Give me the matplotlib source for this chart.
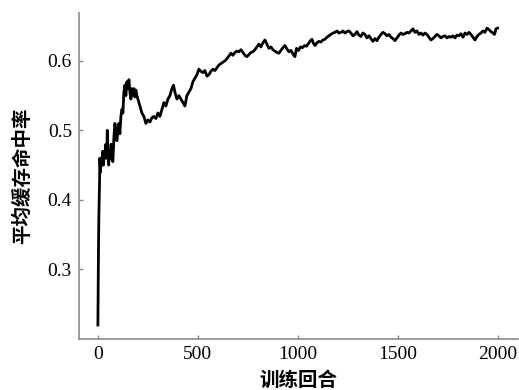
import matplotlib
matplotlib.use('Agg')
import matplotlib.pyplot as plt

# training episodes and average cache hit rate
episodes = [0, 3, 5, 8, 10, 13, 16, 20, 24, 28, 32, 36, 40, 44, 47, 50, 54, 58, 62, 66,
            70, 75, 80, 85, 90, 95, 100, 105, 110, 115, 120, 125, 130, 135, 140, 145,
            150, 155, 160, 165, 170, 175, 180, 185, 190, 195, 200, 210, 220, 230, 240,
            250, 260, 270, 280, 290, 300, 310, 320, 330, 340, 350, 360, 370, 378, 385,
            395, 405, 415, 425, 435, 445, 455, 465, 475, 485, 495, 505, 515, 525, 535,
            545, 555, 565, 575, 585, 595, 605, 615, 625, 635, 645, 655, 665, 675, 685,
            695, 705, 715, 725, 735, 745, 755, 765, 775, 785, 795, 805, 815, 825, 835,
            845, 855, 865, 875, 885, 895, 905, 915, 925, 935, 945, 955, 965, 975, 985,
            993, 1003, 1013, 1023, 1033, 1043, 1053, 1063, 1070, 1078, 1086, 1095, 1105,
            1115, 1125, 1135, 1145, 1155, 1165, 1175, 1185, 1195, 1205, 1215, 1225, 1235,
            1245, 1255, 1265, 1275, 1285, 1295, 1305, 1315, 1325, 1335, 1345, 1355, 1365,
            1375, 1385, 1395, 1405, 1415, 1425, 1435, 1445, 1455, 1465, 1475, 1485, 1495,
            1505, 1515, 1525, 1535, 1545, 1555, 1565, 1575, 1585, 1595, 1605, 1615, 1625,
            1635, 1645, 1655, 1665, 1675, 1685, 1695, 1705, 1715, 1725, 1735, 1745, 1755,
            1765, 1775, 1785, 1795, 1805, 1815, 1825, 1835, 1845, 1855, 1865, 1875, 1885,
            1895, 1905, 1915, 1925, 1935, 1945, 1955, 1965, 1975, 1983, 1990, 1998]
hit_rate = [0.22, 0.33, 0.38, 0.42, 0.46, 0.44, 0.46, 0.45, 0.47, 0.45, 0.47, 0.46, 0.48,
            0.46, 0.50, 0.47, 0.45, 0.47, 0.46, 0.48, 0.46, 0.455, 0.49, 0.51, 0.50, 0.485,
            0.50, 0.51, 0.495, 0.52, 0.53, 0.525, 0.555, 0.565, 0.55, 0.57, 0.56, 0.573,
            0.555, 0.545, 0.56, 0.55, 0.56, 0.548, 0.558, 0.55, 0.545, 0.535, 0.525, 0.52,
            0.51, 0.515, 0.512, 0.518, 0.52, 0.517, 0.525, 0.52, 0.53, 0.54, 0.535, 0.545,
            0.55, 0.56, 0.565, 0.555, 0.545, 0.55, 0.545, 0.54, 0.535, 0.55, 0.555, 0.56,
            0.57, 0.575, 0.58, 0.588, 0.585, 0.583, 0.586, 0.578, 0.58, 0.585, 0.588,
            0.586, 0.59, 0.594, 0.596, 0.598, 0.60, 0.603, 0.607, 0.611, 0.608, 0.612,
            0.614, 0.613, 0.616, 0.612, 0.608, 0.606, 0.609, 0.612, 0.613, 0.616, 0.62,
            0.624, 0.62, 0.626, 0.63, 0.624, 0.618, 0.62, 0.616, 0.614, 0.612, 0.611,
            0.615, 0.619, 0.622, 0.617, 0.613, 0.615, 0.61, 0.606, 0.618, 0.615, 0.62,
            0.619, 0.622, 0.621, 0.625, 0.629, 0.631, 0.625, 0.622, 0.626, 0.628, 0.627,
            0.63, 0.631, 0.634, 0.636, 0.638, 0.64, 0.641, 0.643, 0.64, 0.641, 0.643, 0.64,
            0.642, 0.643, 0.64, 0.636, 0.638, 0.642, 0.637, 0.635, 0.64, 0.638, 0.633,
            0.636, 0.632, 0.628, 0.632, 0.629, 0.634, 0.638, 0.641, 0.639, 0.636, 0.638,
            0.634, 0.632, 0.629, 0.633, 0.637, 0.64, 0.638, 0.639, 0.641, 0.64, 0.643,
            0.646, 0.641, 0.643, 0.638, 0.64, 0.637, 0.64, 0.638, 0.634, 0.63, 0.632,
            0.635, 0.638, 0.636, 0.633, 0.635, 0.636, 0.633, 0.635, 0.634, 0.636, 0.633,
            0.637, 0.636, 0.639, 0.634, 0.64, 0.638, 0.641, 0.638, 0.634, 0.63, 0.635,
            0.638, 0.64, 0.643, 0.641, 0.647, 0.645, 0.642, 0.64, 0.638, 0.646, 0.647]

xticks = [0, 500, 1000, 1500, 2000]
yticks = [0.3, 0.4, 0.5, 0.6]

cjk = ['Noto Sans CJK SC', 'DejaVu Sans']
axis_grey = '#8a8a8a'

fig = plt.figure(figsize=(5.19, 3.90), dpi=100, facecolor='w')
ax = fig.add_axes([0.152, 0.131, 0.846, 0.836])

ax.plot(episodes, hit_rate, color='k', linewidth=2)

ax.set_xlim(-95, 2100)
ax.set_ylim(0.2, 0.669)
ax.set_xticks(xticks)
ax.set_yticks(yticks)
ax.set_xticklabels([str(t) for t in xticks], family='Liberation Serif', fontsize=14)
ax.set_yticklabels([f'{t:.1f}' for t in yticks], family='Liberation Serif', fontsize=14)

ax.spines['top'].set_visible(False)
ax.spines['right'].set_visible(False)
for side in ('left', 'bottom'):
    ax.spines[side].set_color(axis_grey)
    ax.spines[side].set_linewidth(1.2)
ax.tick_params(direction='in', length=3, width=1, color=axis_grey, pad=5)

ax.set_xlabel('训练回合', family=cjk, fontsize=14, fontweight='bold', labelpad=6)
ax.set_ylabel('平均缓存命中率', family=cjk, fontsize=14, fontweight='bold', labelpad=11)

plt.savefig('out.png', dpi=100)
